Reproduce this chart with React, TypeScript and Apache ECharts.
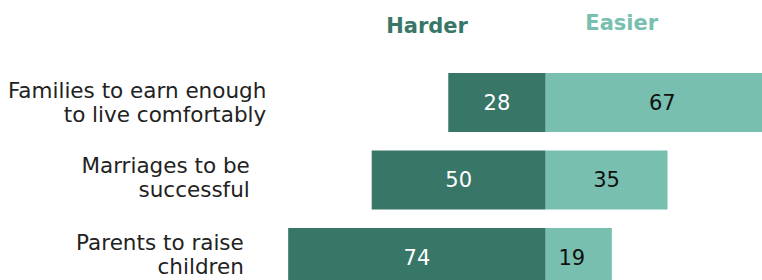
import React, { useEffect, useRef } from "react";
import * as echarts from "echarts";

const categories = [
  "Families to earn enough\nto live comfortably",
  "Marriages to be\nsuccessful",
  "Parents to raise\nchildren",
];
const harder = [28, 50, 74];
const easier = [67, 35, 19];
const seriesNames = ["Harder", "Easier"];

const DARK = "#387668";
const LIGHT = "#78bfaf";
const FONT = "DejaVu Sans";

export default function App() {
  const ref = useRef<HTMLDivElement>(null);
  useEffect(() => {
    if (!ref.current) return;
    const chart = echarts.init(ref.current, undefined, { renderer: "svg" });
    const labelStyle = { fontFamily: FONT, fontSize: 21.5, lineHeight: 24, color: "#222", align: "right" };
    chart.setOption({
      animation: false,
      grid: { left: 267.3, right: 5.9, top: 63.75, bottom: 3.75 },
      xAxis: {
        type: "value",
        min: -80,
        max: 80,
        show: false,
      },
      yAxis: {
        type: "category",
        data: categories,
        inverse: true,
        axisLine: { show: false },
        axisTick: { show: false },
        splitLine: { show: false },
        axisLabel: {
          margin: 1,
          formatter: (v: string, i: number) => `{r${i}|${v}}`,
          rich: {
            r0: { ...labelStyle, padding: [0, 0, 0, 0] },
            r1: { ...labelStyle, padding: [0, 16.5, 5, 0] },
            r2: { ...labelStyle, padding: [0, 22.5, 6, 0] },
          },
        },
      },
      series: [
        {
          name: seriesNames[0],
          type: "bar",
          stack: "total",
          barWidth: 59,
          clip: false,
          itemStyle: { color: DARK },
          label: {
            show: true,
            position: "inside",
            color: "#fff",
            fontFamily: FONT,
            fontSize: 21,
            formatter: (p: any) => String(Math.abs(p.value)),
          },
          data: harder.map((v) => -v),
        },
        {
          name: seriesNames[1],
          type: "bar",
          stack: "total",
          barWidth: 59,
          clip: false,
          itemStyle: { color: LIGHT },
          label: {
            show: true,
            position: "inside",
            color: "#111",
            fontFamily: FONT,
            fontSize: 21,
          },
          data: easier.map((v, i) =>
            i === easier.length - 1 ? { value: v, label: { offset: [-7, 0] } } : v
          ),
        },
      ],
      graphic: [
        {
          type: "text",
          x: 427,
          y: 26,
          style: {
            text: seriesNames[0],
            fill: DARK,
            font: `bold 21px "${FONT}"`,
            textAlign: "center",
            textVerticalAlign: "middle",
          },
        },
        {
          type: "text",
          x: 621.7,
          y: 23,
          style: {
            text: seriesNames[1],
            fill: LIGHT,
            font: `bold 21px "${FONT}"`,
            textAlign: "center",
            textVerticalAlign: "middle",
          },
        },
      ],
    });
    return () => chart.dispose();
  }, []);
  return (
    <div
      style={{
        position: "fixed",
        left: 0,
        top: 0,
        width: 762,
        height: 280,
        overflow: "hidden",
        background: "#fff",
      }}
    >
      <div ref={ref} style={{ width: 830, height: 300 }} />
    </div>
  );
}
